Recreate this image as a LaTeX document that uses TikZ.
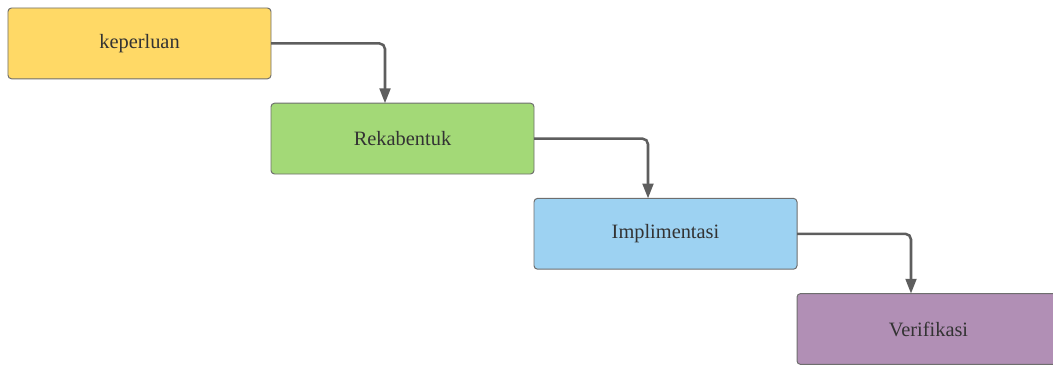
\documentclass[tikz,border=0pt]{standalone}
\usepackage{fontspec}
\setmainfont{Liberation Serif}
\usetikzlibrary{positioning,arrows.meta}

\definecolor{ylw}{HTML}{FFD966}
\definecolor{grn}{HTML}{A3D977}
\definecolor{blu}{HTML}{9DD2F2}
\definecolor{prp}{HTML}{B18FB5}
\definecolor{boxline}{HTML}{6E6E6E}
\definecolor{arrowgray}{HTML}{5E5E5E}
\definecolor{textgray}{HTML}{333333}

\begin{document}
\begin{tikzpicture}[stage/.style={rectangle, draw=boxline, line width=0.7pt, rounded corners=2.5pt, minimum width=6.575cm, minimum height=1.77cm, outer sep=0pt, text=textgray, font=\fontsize{14.5}{16}\selectfont},
flow/.style={-{Triangle[length=0.37cm, width=0.27cm]}, draw=arrowgray, line width=1.8pt, rounded corners=4pt},]
\useasboundingbox (0,0) rectangle (26.325,-9.125);
%Nodes
\node[stage, fill=ylw, anchor=north west] (1) at (0.2,-0.2) {keperluan};
\node[stage, fill=grn, below right=0.61cm and 0cm of 1] (2) {Rekabentuk};
\node[stage, fill=blu, below right=0.61cm and 0cm of 2] (3) {Implimentasi};
\node[stage, fill=prp, below right=0.61cm and 0cm of 3] (4) {Verifikasi};

%Lines
\draw[flow] (1.east) -| ([xshift=2.85cm]2.north west);
\draw[flow] (2.east) -| ([xshift=2.85cm]3.north west);
\draw[flow] (3.east) -| ([xshift=2.85cm]4.north west);

\end{tikzpicture}
\end{document}
